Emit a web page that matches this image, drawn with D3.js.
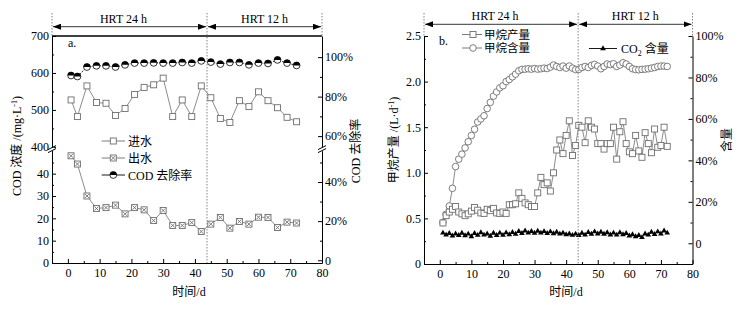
<!DOCTYPE html>
<html>
<head>
<meta charset="utf-8">
<script src="https://cdn.jsdelivr.net/npm/d3@7"></script>
<style>
body { margin: 0; background: #fff; }
svg { display: block; }
</style>
</head>
<body>
<div id="chart"></div>
<script>
// ---- data: panel a (COD) ----
const codDays = [1, 3, 6, 9, 12, 15, 18, 21, 24, 27, 30, 33, 36, 39, 42, 45, 48, 51, 54, 57, 60, 63, 66, 69, 72];
const influentCod = [527, 482, 565, 520, 518, 485, 504, 542, 561, 568, 586, 482, 527, 482, 565, 533, 477, 466, 525, 509, 549, 525, 506, 480, 468];
const effluentCod = [48.0, 44.3, 30.0, 24.4, 24.8, 25.9, 22.0, 24.8, 23.8, 19.0, 23.5, 16.8, 16.8, 18.1, 14.1, 17.4, 20.4, 15.6, 18.6, 17.4, 20.5, 20.4, 15.9, 18.3, 17.9];
const codRemoval = [90.7, 90.2, 95.0, 95.6, 95.6, 95.0, 96.1, 97.0, 97.0, 97.1, 97.0, 97.0, 97.3, 97.0, 98.1, 97.5, 96.5, 97.3, 97.3, 96.1, 97.0, 96.8, 98.6, 97.0, 95.8];

// ---- data: panel b (biogas) ----
const gasDays = d3.range(1, 73);
const methaneYield = [
  0.45, 0.53, 0.57, 0.60, 0.63, 0.57, 0.55, 0.53, 0.55, 0.58,
  0.62, 0.59, 0.56, 0.555, 0.60, 0.585, 0.61, 0.56, 0.555, 0.57,
  0.555, 0.65, 0.65, 0.66, 0.78, 0.72, 0.67, 0.65, 0.63, 0.63,
  0.78, 0.95, 0.87, 0.89, 0.80, 1.00, 1.25, 1.36, 1.21, 1.41,
  1.57, 1.19, 1.30, 1.52, 1.50, 1.33, 1.57, 1.50, 1.48, 1.32,
  1.32, 1.26, 1.32, 1.32, 1.50, 1.15, 1.45, 1.56, 1.32, 1.23,
  1.21, 1.41, 1.24, 1.17, 1.44, 1.32, 1.22, 1.48, 1.28, 1.30,
  1.50, 1.29];
const methaneContent = [
  10, 14, 18, 26.5, 37, 40.6, 43, 46, 49, 52,
  55, 58.5, 60, 61.5, 65, 68, 71, 73, 75, 76,
  78, 79, 80.3, 81.6, 83.2, 83.9, 84.0, 84.2, 84.0, 84.3,
  84.0, 84.2, 84.5, 84.3, 85.0, 86.0, 85.3, 84.8, 85.5, 84.5,
  85.5, 84.5, 83.8, 83.9, 84.8, 85.3, 84.8, 85.8, 86.3, 85.5,
  84.2, 85.3, 86.5, 86.2, 86.6, 85.3, 86.0, 87.1, 86.5, 85.3,
  84.2, 83.8, 83.7, 83.9, 84.0, 84.2, 84.5, 84.8, 85.3, 85.5,
  85.5, 85.3];
const co2Content = [
  5.0, 4.0, 4.8, 3.6, 4.6, 3.8, 4.9, 3.7, 4.5, 3.2,
  4.8, 3.9, 5.2, 4.0, 4.6, 3.5, 4.9, 3.8, 5.0, 3.9,
  5.1, 4.2, 5.3, 4.4, 5.8, 4.8, 6.0, 5.0, 5.8, 4.9,
  5.9, 5.0, 5.7, 4.8, 5.6, 4.7, 5.4, 4.5, 5.0, 4.2,
  4.6, 3.9, 4.5, 3.8, 4.9, 4.0, 5.3, 4.4, 5.6, 4.6,
  5.4, 4.4, 5.2, 4.1, 5.0, 4.0, 5.2, 4.2, 4.8, 3.6,
  4.2, 3.2, 3.8, 2.8, 4.6, 4.0, 5.4, 4.3, 5.6, 4.6,
  6.0, 5.0];

const hrtSwitchDay = 43.8;
const xTicks = [0, 10, 20, 30, 40, 50, 60, 70, 80];

const FONT = '"Liberation Serif", "Noto Sans CJK SC", serif';
const GREY = "#6e6e6e";

const svg = d3.select("#chart").append("svg")
  .attr("width", 749)
  .attr("height", 312)
  .style("background", "#fff")
  .attr("font-family", FONT);

const defs = svg.append("defs");
defs.append("marker")
  .attr("id", "arrow")
  .attr("markerUnits", "userSpaceOnUse")
  .attr("markerWidth", 8).attr("markerHeight", 6)
  .attr("refX", 8).attr("refY", 3)
  .attr("orient", "auto-start-reverse")
  .append("path").attr("d", "M0,0 L8,3 L0,6 Z").attr("fill", "#000");

function drawAxis(g, axis, minor) {
  g.call(axis).attr("font-family", FONT).attr("font-size", 12);
  g.selectAll(".tick text").attr("fill", "#000");
  g.select(".domain").attr("stroke", "#000");
  if (minor) {
    const m = g.append("g").call(minor);
    m.select(".domain").remove();
    m.selectAll("text").remove();
  }
}

function breakMark(x, y1, y2) {
  svg.append("rect").attr("x", x - 2).attr("y", y1).attr("width", 4).attr("height", y2 - y1).attr("fill", "#fff");
  [y1, y2].forEach(y => {
    svg.append("line")
      .attr("x1", x - 4).attr("y1", y + 2)
      .attr("x2", x + 4).attr("y2", y - 2)
      .attr("stroke", "#000").attr("stroke-width", 1);
  });
}

function hrtHeader(x, top, bottom, arrowY, textY) {
  const xs = x(hrtSwitchDay);
  const [x0, x1] = x.range();
  const dotted = (xx, y2) => svg.append("line")
    .attr("x1", xx).attr("x2", xx).attr("y1", 13).attr("y2", y2)
    .attr("stroke", "#777").attr("stroke-width", 0.9).attr("stroke-dasharray", "1.5,1.5");
  dotted(x0, top);
  dotted(x1, top);
  dotted(xs, bottom);
  [[x0, xs], [xs, x1]].forEach(([a, b]) => {
    svg.append("line")
      .attr("x1", a + 1).attr("x2", b - 1).attr("y1", arrowY).attr("y2", arrowY)
      .attr("stroke", "#000").attr("stroke-width", 0.8)
      .attr("marker-start", "url(#arrow)").attr("marker-end", "url(#arrow)");
  });
  svg.append("text").attr("x", x(17.5)).attr("y", textY).attr("text-anchor", "middle")
    .attr("font-size", 12).text("HRT 24 h");
  svg.append("text").attr("x", (xs + x1) / 2).attr("y", textY).attr("text-anchor", "middle")
    .attr("font-size", 12).text("HRT 12 h");
}

function squares(g, pts, size, withCross) {
  const s = size / 2;
  const m = g.selectAll(null).data(pts).join("g")
    .attr("transform", d => `translate(${d[0]},${d[1]})`);
  m.append("rect").attr("x", -s).attr("y", -s).attr("width", size).attr("height", size)
    .attr("fill", "#fff").attr("stroke", GREY).attr("stroke-width", 0.9);
  if (withCross) {
    m.append("path").attr("d", `M${-s + 1},${-s + 1}L${s - 1},${s - 1}M${s - 1},${-s + 1}L${-s + 1},${s - 1}`)
      .attr("stroke", GREY).attr("stroke-width", 0.9);
  }
}

function halfCircles(g, pts, r) {
  const m = g.selectAll(null).data(pts).join("g")
    .attr("transform", d => `translate(${d[0]},${d[1]})`);
  m.append("circle").attr("r", r).attr("fill", "#fff").attr("stroke", "#000").attr("stroke-width", 0.8);
  m.append("path").attr("d", `M${-r},0 A${r},${r} 0 0 1 ${r},0 Z`).attr("fill", "#000");
}

// =================== panel a ===================
const xa = d3.scaleLinear().domain([-5, 80]).range([52, 322]);
const yaTop = d3.scaleLinear().domain([397, 700]).range([148, 36]);
const yaBot = d3.scaleLinear().domain([0, 50.5]).range([263, 150.2]);
const raTop = d3.scaleLinear().domain([54.5, 110.7]).range([147, 36]);
const raBot = d3.scaleLinear().domain([-1.4, 56]).range([263, 150.7]);

const pa = svg.append("g");

drawAxis(pa.append("g").attr("transform", "translate(0,263)"),
  d3.axisBottom(xa).tickValues(xTicks).tickSize(-4).tickSizeOuter(0).tickPadding(5),
  d3.axisBottom(xa).tickValues(d3.range(5, 80, 10)).tickSize(-2).tickSizeOuter(0));
drawAxis(pa.append("g").attr("transform", "translate(52,0)"),
  d3.axisLeft(yaTop).tickValues([400, 500, 600, 700]).tickSize(-4).tickSizeOuter(0).tickPadding(3),
  d3.axisLeft(yaTop).tickValues([450, 550, 650]).tickSize(-2).tickSizeOuter(0));
drawAxis(pa.append("g").attr("transform", "translate(52,0)"),
  d3.axisLeft(yaBot).tickValues([0, 10, 20, 30, 40]).tickSize(-4).tickSizeOuter(0).tickPadding(3),
  d3.axisLeft(yaBot).tickValues([5, 15, 25, 35, 45]).tickSize(-2).tickSizeOuter(0));
drawAxis(pa.append("g").attr("transform", "translate(322,0)"),
  d3.axisRight(raTop).tickValues([60, 80, 100]).tickFormat(d => d + "%").tickSize(-4).tickSizeOuter(0).tickPadding(3),
  d3.axisRight(raTop).tickValues([70, 90]).tickSize(-2).tickSizeOuter(0));
drawAxis(pa.append("g").attr("transform", "translate(322,0)"),
  d3.axisRight(raBot).tickValues([0, 20, 40]).tickFormat(d => d ? d + "%" : "0").tickSize(-4).tickSizeOuter(0).tickPadding(3),
  d3.axisRight(raBot).tickValues([10, 30, 50]).tickSize(-2).tickSizeOuter(0));

pa.append("line").attr("x1", 52).attr("x2", 322).attr("y1", 36).attr("y2", 36)
  .attr("stroke", "#000").attr("stroke-width", 1.4);

breakMark(52, 147.6, 150.6);
breakMark(322, 147.6, 150.6);

hrtHeader(xa, 36, 263, 26.7, 23);

const infPts = codDays.map((d, i) => [xa(d), yaTop(influentCod[i])]);
const effPts = codDays.map((d, i) => [xa(d), yaBot(effluentCod[i])]);
const remPts = codDays.map((d, i) => [xa(d), raTop(codRemoval[i])]);

const line = d3.line();
pa.append("path").attr("d", line(infPts)).attr("fill", "none").attr("stroke", GREY).attr("stroke-width", 0.8);
pa.append("path").attr("d", line(effPts)).attr("fill", "none").attr("stroke", GREY).attr("stroke-width", 0.8);
pa.append("path").attr("d", line(remPts)).attr("fill", "none").attr("stroke", "#000").attr("stroke-width", 0.8)
  .attr("stroke-dasharray", "2,1.2");
squares(pa.append("g"), infPts, 6, false);
squares(pa.append("g"), effPts, 6, true);
halfCircles(pa.append("g"), remPts, 3.4);

pa.append("text").attr("x", 68).attr("y", 47).attr("font-size", 12).text("a.");

// legend a
const legA = pa.append("g");
const legAY = [141, 158, 175];
["进水", "出水", "COD 去除率"].forEach((t, i) => {
  legA.append("line").attr("x1", 101.7).attr("x2", 125).attr("y1", legAY[i]).attr("y2", legAY[i])
    .attr("stroke", i < 2 ? GREY : "#000").attr("stroke-width", 0.9);
  legA.append("text").attr("x", 128).attr("y", legAY[i] + 4.5).attr("font-size", 12).text(t);
});
squares(legA.append("g"), [[113.3, legAY[0]]], 6, false);
squares(legA.append("g"), [[113.3, legAY[1]]], 6, true);
halfCircles(legA.append("g"), [[113.3, legAY[2]]], 3.4);

// axis titles a
const yTitleA = svg.append("text").attr("transform", "translate(21,146) rotate(-90)")
  .attr("text-anchor", "middle").attr("font-size", 12);
yTitleA.append("tspan").text("COD 浓度 /(mg·L");
yTitleA.append("tspan").attr("dy", -4).attr("font-size", 8).text("-1");
yTitleA.append("tspan").attr("dy", 4).text(")");
svg.append("text").attr("transform", "translate(360,151) rotate(-90)")
  .attr("text-anchor", "middle").attr("font-size", 12).text("COD 去除率");
svg.append("text").attr("x", 189).attr("y", 296).attr("text-anchor", "middle")
  .attr("font-size", 12).text("时间/d");

// =================== panel b ===================
const xb = d3.scaleLinear().domain([-5, 80]).range([424, 692.5]);
const yb = d3.scaleLinear().domain([0, 2.5]).range([264, 36]);
const rb = d3.scaleLinear().domain([-10, 100]).range([264, 36]);

const pb = svg.append("g");

drawAxis(pb.append("g").attr("transform", "translate(0,264)"),
  d3.axisBottom(xb).tickValues(xTicks).tickSize(-4).tickSizeOuter(0).tickPadding(5),
  d3.axisBottom(xb).tickValues(d3.range(5, 80, 10)).tickSize(-2).tickSizeOuter(0));
drawAxis(pb.append("g").attr("transform", "translate(424,0)"),
  d3.axisLeft(yb).tickValues([0, 0.5, 1.0, 1.5, 2.0, 2.5]).tickFormat(d => d ? d3.format(".1f")(d) : "0")
    .tickSize(-4).tickSizeOuter(0).tickPadding(3),
  d3.axisLeft(yb).tickValues([0.25, 0.75, 1.25, 1.75, 2.25]).tickSize(-2).tickSizeOuter(0));
drawAxis(pb.append("g").attr("transform", "translate(692.5,0)"),
  d3.axisRight(rb).tickValues([0, 20, 40, 60, 80, 100]).tickFormat(d => d ? d + "%" : "0")
    .tickSize(-4).tickSizeOuter(0).tickPadding(3),
  d3.axisRight(rb).tickValues([-10, 10, 30, 50, 70, 90]).tickSize(-2).tickSizeOuter(0));

hrtHeader(xb, 36, 264, 24.3, 20);

const yldPts = gasDays.map((d, i) => [xb(d), yb(methaneYield[i])]);
const ch4Pts = gasDays.map((d, i) => [xb(d), rb(methaneContent[i])]);
const co2Pts = gasDays.map((d, i) => [xb(d), rb(co2Content[i])]);

pb.append("path").attr("d", line(ch4Pts)).attr("fill", "none").attr("stroke", GREY).attr("stroke-width", 0.8);
pb.append("path").attr("d", line(yldPts)).attr("fill", "none").attr("stroke", GREY).attr("stroke-width", 0.8);
pb.append("path").attr("d", line(co2Pts)).attr("fill", "none").attr("stroke", "#000").attr("stroke-width", 0.8);

pb.append("g").selectAll("circle").data(ch4Pts).join("circle")
  .attr("cx", d => d[0]).attr("cy", d => d[1]).attr("r", 3.3)
  .attr("fill", "#fff").attr("stroke", GREY).attr("stroke-width", 0.9);
squares(pb.append("g"), yldPts, 6, false);
const tri = d3.symbol().type(d3.symbolTriangle).size(14);
pb.append("g").selectAll("path").data(co2Pts).join("path")
  .attr("transform", d => `translate(${d[0]},${d[1]})`).attr("d", tri).attr("fill", "#000");

pb.append("text").attr("x", 439).attr("y", 45).attr("font-size", 12).text("b.");

// legend b
const legB = pb.append("g");
const legBY = [34.5, 48];
legBY.forEach(y => legB.append("line").attr("x1", 462).attr("x2", 482).attr("y1", y).attr("y2", y)
  .attr("stroke", GREY).attr("stroke-width", 0.9));
squares(legB.append("g"), [[473, legBY[0]]], 6, false);
legB.append("circle").attr("cx", 473).attr("cy", legBY[1]).attr("r", 3.3).attr("fill", "#fff").attr("stroke", GREY).attr("stroke-width", 0.9);
["甲烷产量", "甲烷含量"].forEach((t, i) => {
  legB.append("text").attr("x", 484).attr("y", legBY[i] + 4).attr("font-size", 11.5).text(t);
});
legB.append("line").attr("x1", 589).attr("x2", 617).attr("y1", 48.5).attr("y2", 48.5).attr("stroke", "#000").attr("stroke-width", 0.9);
legB.append("path").attr("transform", "translate(603,48.5)").attr("d", tri).attr("fill", "#000");
const co2Label = legB.append("text").attr("x", 621).attr("y", 53).attr("font-size", 12);
co2Label.append("tspan").text("CO");
co2Label.append("tspan").attr("dy", 3).attr("font-size", 8).text("2");
co2Label.append("tspan").attr("dy", -3).text(" 含量");

// axis titles b
const yTitleB = svg.append("text").attr("transform", "translate(398,140) rotate(-90)")
  .attr("text-anchor", "middle").attr("font-size", 12);
yTitleB.append("tspan").text("甲烷产量 /(L·d");
yTitleB.append("tspan").attr("dy", -4).attr("font-size", 8).text("-1");
yTitleB.append("tspan").attr("dy", 4).text(")");
svg.append("text").attr("transform", "translate(731,140) rotate(-90)")
  .attr("text-anchor", "middle").attr("font-size", 12).text("含量");
svg.append("text").attr("x", 566).attr("y", 296).attr("text-anchor", "middle")
  .attr("font-size", 12).text("时间/d");
</script>
</body>
</html>
